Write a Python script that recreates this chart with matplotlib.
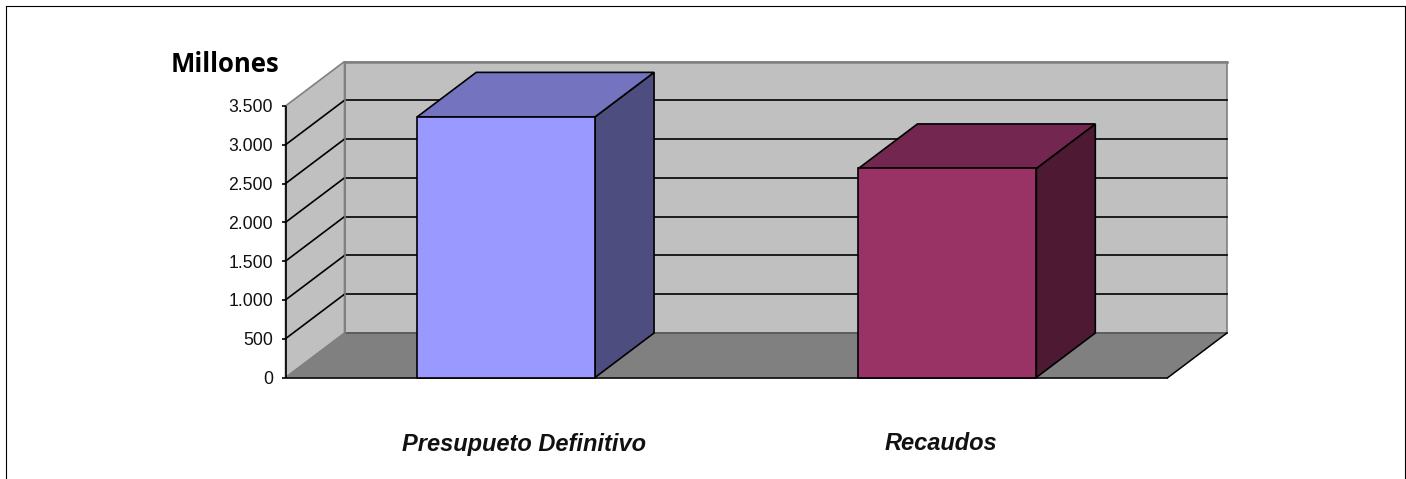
import matplotlib
matplotlib.use("Agg")
import matplotlib.pyplot as plt
from matplotlib.patches import Polygon
from matplotlib.lines import Line2D

categories = ["Presupueto Definitivo", "Recaudos"]
values = [3360, 2695]
tick_values = [0, 500, 1000, 1500, 2000, 2500, 3000, 3500]
tick_labels = ["0", "500", "1.000", "1.500", "2.000", "2.500", "3.000", "3.500"]
front_colors = ["#9999FF", "#993366"]
top_colors = ["#7373BF", "#732650"]
side_colors = ["#4D4D80", "#4D1933"]

W, H = 1406, 479
fig = plt.figure(figsize=(W / 100, H / 100), dpi=100, facecolor="white")
x0, x1, y0, y1 = 285.5, 1168, 377.5, 106
ax = fig.add_axes([x0 / W, 1 - y0 / H, (x1 - x0) / W, (y0 - y1) / H])
ax.set_xlim(-0.5, 1.5)
ax.set_ylim(0, 3500)
ax.patch.set_visible(False)
for s in ax.spines.values():
    s.set_visible(False)

# depth offset of the 3D box, in data units
dx = 59.0 / ((x1 - x0) / 2)
dy = 44.5 / ((y0 - y1) / 3500)
bar_w = 0.403
top = tick_values[-1]
L, R = -0.5, 1.5
LW = 1.2


def poly(pts, fc, ec, lw, z):
    ax.add_patch(Polygon(pts, closed=True, facecolor=fc, edgecolor=ec, linewidth=lw,
                         zorder=z, clip_on=False, joinstyle="miter"))


# walls and floor
poly([(L + dx, dy), (R + dx, dy), (R + dx, top + dy), (L + dx, top + dy)], "#C0C0C0", "#808080", 1.2, 1)
poly([(L, 0), (L + dx, dy), (L + dx, top + dy), (L, top)], "#C0C0C0", "#808080", 1.2, 1)
poly([(L, 0), (R, 0), (R + dx, dy), (L + dx, dy)], "#808080", "none", 0, 1.5)
ax.plot([L + dx, R + dx], [dy, dy], color="#5A5A5A", lw=1.3, zorder=1.6, clip_on=False)
ax.plot([L, R], [0, 0], color="black", lw=LW, zorder=1.7, clip_on=False, solid_capstyle="butt")
ax.plot([R, R + dx], [0, dy], color="black", lw=1.1, zorder=1.7, clip_on=False)

# gridlines on the walls
for v in tick_values[1:-1]:
    ax.plot([L, L + dx], [v, v + dy], color="black", lw=LW, zorder=2, clip_on=False)
    ax.plot([L + dx, R + dx], [v + dy, v + dy], color="black", lw=LW, zorder=2, clip_on=False)
ax.plot([L + dx, R + dx], [top + dy, top + dy], color="#808080", lw=1.8, zorder=2, clip_on=False)
ax.plot([L + dx, L + dx], [dy, top + dy], color="#808080", lw=1.2, zorder=2.1, clip_on=False)

# bars
for i, v in enumerate(values):
    a, b = i - bar_w / 2, i + bar_w / 2
    poly([(b, 0), (b + dx, dy), (b + dx, v + dy), (b, v)], side_colors[i], "black", LW, 3)
    poly([(a, v), (b, v), (b + dx, v + dy), (a + dx, v + dy)], top_colors[i], "black", LW, 3)
    poly([(a, 0), (b, 0), (b, v), (a, v)], front_colors[i], "black", LW, 3.1)

# value axis
ax.plot([L, L], [0, top], color="black", lw=LW, zorder=4, clip_on=False, solid_capstyle="butt")
ax.set_yticks(tick_values)
ax.set_yticklabels(tick_labels, fontsize=12.7, family="Liberation Sans", color="#111111")
ax.tick_params(axis="y", length=3, width=1.2, pad=6, color="black", left=True)

# category labels sit off-centre from their bars in the reference
ax.set_xticks(range(len(categories)))
ax.set_xticklabels([])
ax.tick_params(axis="x", length=0)
label_shift_px = [17.5, -6.5]
for i, name in enumerate(categories):
    ax.annotate(name, xy=(i, 0), xytext=(label_shift_px[i], -66.5), textcoords="offset pixels",
                fontsize=17, family="Liberation Sans", fontweight="bold", fontstyle="italic",
                color="#111111", ha="center", va="center", annotation_clip=False)

fig.text(225.5 / W, 1 - 64.5 / H, "Millones", fontsize=18.5, family="Open Sans",
         fontweight="bold", ha="center", va="center", color="black")

# outer frame: no line along the bottom
for xs, ys in [((5.5, 5.5), (5.5, 479)), ((5.5, 1404.5), (5.5, 5.5)), ((1404.5, 1404.5), (5.5, 479))]:
    fig.add_artist(Line2D([x / W for x in xs], [1 - y / H for y in ys], color="black", lw=0.8))

fig.savefig("out.png", dpi=100, facecolor="white")
